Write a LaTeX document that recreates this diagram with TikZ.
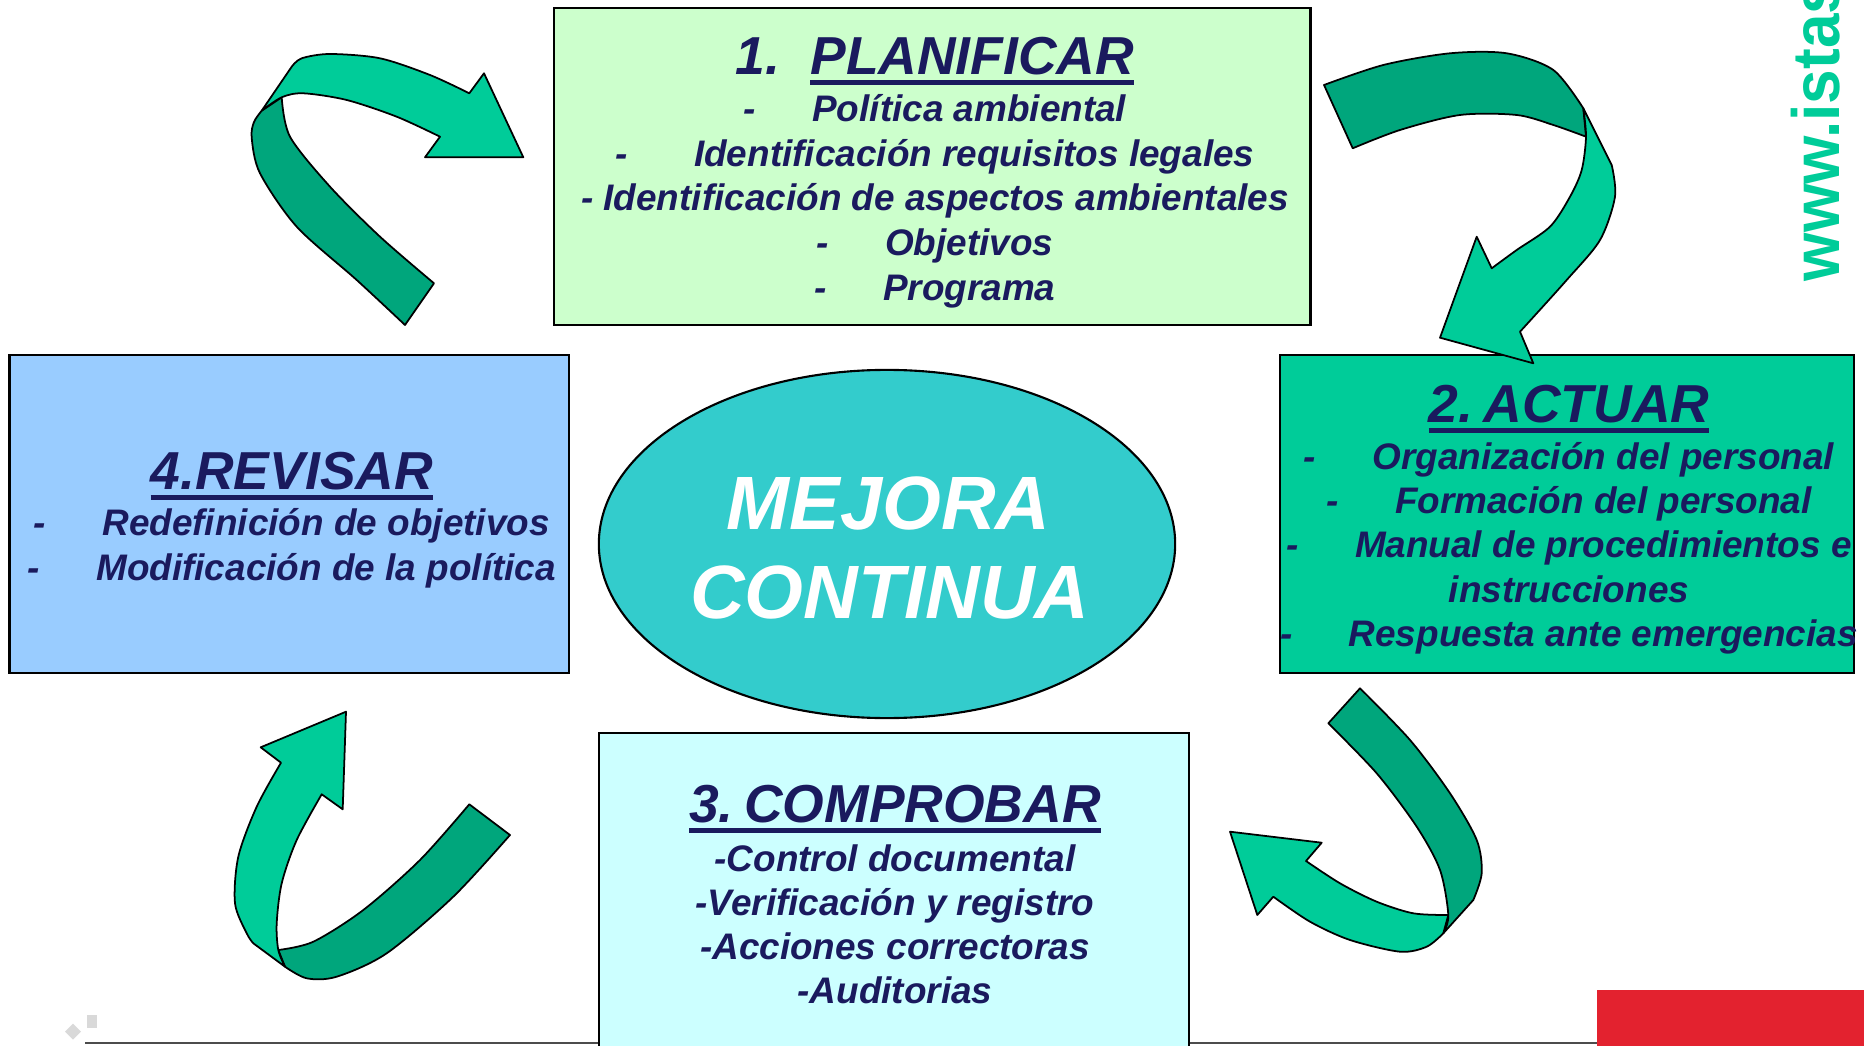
\documentclass[tikz,border=0pt]{standalone}
\usepackage{fontspec}
\usepackage{graphicx}
\setmainfont{Liberation Sans}
\usetikzlibrary{shapes.geometric}

\definecolor{azul}{RGB}{26,26,94}
\definecolor{verdeplan}{RGB}{204,255,204}
\definecolor{verdeact}{RGB}{0,204,153}
\definecolor{azulrev}{RGB}{153,204,255}
\definecolor{celeste}{RGB}{204,255,255}
\definecolor{turquesa}{RGB}{51,204,204}
\definecolor{flechaclara}{RGB}{0,204,153}
\definecolor{flechaoscura}{RGB}{0,166,124}
\definecolor{rojo}{RGB}{227,34,47}
\definecolor{grisdeco}{RGB}{217,217,217}

\newcommand{\subr}[1]{\setbox0\hbox{#1}\rlap{\rule[-2.9pt]{\wd0}{1.4pt}}\box0}
\newcommand{\hueco}[1][16pt]{\hspace*{#1}}

\begin{document}
\begin{tikzpicture}[x=0.01cm, y=-0.01cm,
	caja/.style={draw=black, line width=0.6pt, anchor=north west, inner sep=0pt, outer sep=0pt},
	titulo/.style={text=azul, anchor=base, inner sep=0pt, font=\fontsize{15.2}{18}\selectfont\bfseries\itshape},
	linea/.style={text=azul, anchor=base, inner sep=0pt, font=\fontsize{10.5}{12.7}\selectfont\bfseries\itshape},
	centro/.style={text=white, anchor=base, inner sep=0pt, font=\fontsize{21.5}{26}\selectfont\bfseries\itshape},
	clara/.style={fill=flechaclara, draw=black, line width=0.5pt, line join=round},
	oscura/.style={fill=flechaoscura, draw=black, line width=0.5pt, line join=round}]
		\useasboundingbox (0,0) rectangle (1864,1046);
		% pie de pagina
		\draw[black!70, line width=0.6pt] (85,1043) -- (1864,1043);
		\fill[rojo] (1597,990) rectangle (1864,1046);
		\fill[grisdeco] (73,1023.7) -- (81,1031.7) -- (73,1039.7) -- (65,1031.7) -- cycle;
		\fill[grisdeco] (87,1015) rectangle (97,1027.7);
		\node[text=flechaclara, font=\fontsize{19}{20}\selectfont\bfseries, rotate=90, anchor=base west, inner sep=0pt] (web) at (1839,282) {\scalebox{0.93}[1]{www.istas}};

		% cajas
		\node[caja, fill=verdeplan, minimum width=7.56cm, minimum height=3.17cm] (planificar) at (554,8) {};
		\node[caja, fill=azulrev, minimum width=5.595cm, minimum height=3.18cm] (revisar) at (9.5,355) {};
		\node[caja, fill=verdeact, minimum width=5.74cm, minimum height=3.18cm] (actuar) at (1280,355) {};
		\node[caja, fill=celeste, minimum width=5.9cm, minimum height=3.5cm] (comprobar) at (599,733) {};
		\node[ellipse, draw=black, line width=0.6pt, fill=turquesa, minimum width=5.76cm, minimum height=3.48cm] (mejora) at (887,544) {};

		% textos
		\node[titulo] (plan-t) at (935,75) {1.\hspace{8.5pt}\subr{PLANIFICAR}};
		\foreach \txt [count=\i] in {{-\hueco Política ambiental}, {-\hueco[18.8pt]Identificación requisitos legales},
				{- Identificación de aspectos ambientales}, {-\hueco Objetivos}, {-\hueco Programa}}
			\node[linea] (plan-\i) at (935, 77.1+44.6*\i) {\txt};

		\node[titulo] (act-t) at (1569,422.7) {\subr{2.\hspace{3pt}ACTUAR}};
		\foreach \txt [count=\i] in {{-\hueco Organización del personal}, {-\hueco Formación del personal},
				{-\hueco Manual de procedimientos e}, {instrucciones}, {-\hueco Respuesta ante emergencias}}
			\node[linea] (act-\i) at (1569, 425+44.3*\i) {\txt};

		\node[titulo] (rev-t) at (291.8,489.3) {\subr{4.REVISAR}};
		\foreach \txt [count=\i] in {{-\hueco Redefinición de objetivos}, {-\hueco Modificación de la política}}
			\node[linea] (rev-\i) at (291.8, 489.3+45.7*\i) {\txt};

		\node[titulo] (comp-t) at (895,822.7) {\subr{3.\hspace{3pt}COMPROBAR}};
		\foreach \txt [count=\i] in {{-Control documental}, {-Verificación y registro}, {-Acciones correctoras}, {-Auditorias}}
			\node[linea] (comp-\i) at (895, 826.9+44.1*\i) {\txt};

		\node[centro] (mejora-1) at (888.6,529) {MEJORA};
		\node[centro] (mejora-2) at (889.8,618) {CONTINUA};

		% flecha revisar -> planificar
		\filldraw[oscura] plot[smooth] coordinates {(261.7,110.7) (254,122) (251.7,138) (260,173.3) (296.7,226.7) (356.7,280) (405,325)}
			-- plot[smooth] coordinates {(434,283.3) (380,236.7) (330,186.7) (290,136.7) (281.7,97.3)} -- cycle;
		\filldraw[clara] plot[smooth] coordinates {(291.7,66.7) (301.7,58.3) (330,54) (380,58.3) (430,75) (469.3,93.3)}
			-- (484,73.3) -- (523.3,157.3) -- (425,157.3)
			-- plot[smooth] coordinates {(440,136.7) (396.7,116.7) (346.7,100) (303.3,93.3) (281.7,97.3) (261.7,110.7)} -- cycle;

		% flecha planificar -> actuar
		\filldraw[oscura] plot[smooth] coordinates {(1324,85) (1383.3,65) (1450,53.3) (1506.7,53.3) (1553.3,70) (1583.3,108.3)}
			-- plot[smooth] coordinates {(1586,136.7) (1553.3,125) (1516.7,115) (1460,115) (1400,130) (1352.7,148.3)} -- cycle;
		\filldraw[clara] (1583.3,108.3) -- plot[smooth] coordinates {(1611.7,165) (1615,196.7) (1600,240) (1566.7,280) (1520,331.7)}
			-- (1533.3,363.3) -- (1440,337.7) -- (1476.7,236.7)
			-- plot[smooth] coordinates {(1491.7,268.3) (1516.7,250) (1550,226.7) (1570,196.7) (1581.7,170) (1586,136.7) (1583.3,108.3)} -- cycle;

		% flecha actuar -> comprobar
		\filldraw[clara] (1230,831.7) -- (1321.7,842.7)
			-- plot[smooth] coordinates {(1306,861) (1340,883.3) (1376.7,901.7) (1413.3,913.3) (1448.3,915)}
			-- plot[smooth] coordinates {(1443.3,933.3) (1426.7,946.7) (1400,951.7) (1350,940) (1310,921.7) (1273.3,896.7)}
			-- (1257.3,915) -- cycle;
		\filldraw[oscura] plot[smooth] coordinates {(1360,688.3) (1410,740) (1450,793.3) (1476.7,840) (1481.7,873.3) (1473.3,900)}
			-- plot[smooth] coordinates {(1443.3,933.3) (1448.3,915) (1440,870) (1416.7,826.7) (1376.7,773.3) (1328.3,723.3)} -- cycle;

		% flecha comprobar -> revisar
		\filldraw[oscura] plot[smooth] coordinates {(285,966.7) (306.7,978.3) (336.7,976.7) (386.7,953.3) (453.3,896.7) (510,835)}
			-- plot[smooth] coordinates {(469.3,804.3) (420,860) (363.3,910) (313.3,941.7) (278.3,950)} -- cycle;
		\filldraw[clara] (346,711.7) -- (342.7,809.3)
			-- plot[smooth] coordinates {(321.7,794.3) (296.7,840) (281.7,883.3) (276.7,923.3) (278.3,950) (285,966.7)}
			-- plot[smooth] coordinates {(253.3,943.3) (246.7,933.3) (235,903.3) (238.3,856.7) (256.7,806.7) (281,762.7)}
			-- (260.7,747.3) -- cycle;
	\end{tikzpicture}
\end{document}
